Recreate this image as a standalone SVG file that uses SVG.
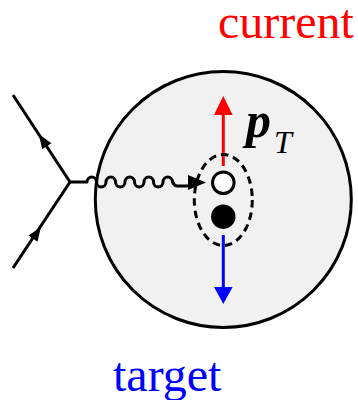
<svg xmlns="http://www.w3.org/2000/svg" width="358" height="400" viewBox="0 0 358 400">
<style>
.ln{fill:none;stroke:#000;stroke-width:3;stroke-linecap:butt;stroke-linejoin:round}
.ah{fill:#000;stroke:none}
.lbl{font-family:"Liberation Serif","Times New Roman",serif;font-size:48px}
</style>
<rect width="358" height="400" fill="#fff"/>
<g id="blob"><circle cx="223.3" cy="199.5" r="128" fill="#f1f1f1" stroke="#000" stroke-width="3"/></g>
<g id="connectors">
  <g id="fermion-out">
    <line class="ln" x1="70" y1="182" x2="13" y2="95"/>
    <polygon class="ah" points="38.7,134 51.4,143.3 42.2,149.3"/>
  </g>
  <g id="fermion-in">
    <line class="ln" x1="13" y1="268" x2="70" y2="182"/>
    <polygon class="ah" points="40.9,227 37.5,241.7 28.5,235.5"/>
  </g>
  <g id="photon">
    <path class="ln" d="M70,182 H87 a4.75,5 0 0 1 9.5,0 a4.75,5 0 0 0 9.5,0 a4.75,5 0 0 1 9.5,0 a4.75,5 0 0 0 9.5,0 a4.75,5 0 0 1 9.5,0 a4.75,5 0 0 0 9.5,0 a4.75,5 0 0 1 9.5,0 a4.75,5 0 0 0 9.5,0 a4.75,5 0 0 1 9.5,0 c1.6,3.4 3.2,4 5,4 H190"/>
    <polygon class="ah" points="188,175 206,182.5 188,190"/>
  </g>
  <g id="current-arrow">
    <line x1="223.3" y1="166" x2="223.3" y2="113" stroke="#f00" stroke-width="3"/>
    <polygon fill="#f00" points="214,115 232.6,115 223.3,96"/>
  </g>
  <g id="target-arrow">
    <line x1="223.3" y1="235" x2="223.3" y2="289" stroke="#00f" stroke-width="3"/>
    <polygon fill="#00f" points="214,287 232.6,287 223.3,304"/>
  </g>
</g>
<g id="pair"><ellipse cx="223.3" cy="200" rx="29" ry="45.5" fill="none" stroke="#000" stroke-width="3" stroke-dasharray="7.5 5"/></g>
<g id="hole"><circle cx="223.3" cy="182.7" r="10.8" fill="#fff" stroke="#000" stroke-width="3"/></g>
<g id="quark"><circle cx="223.3" cy="216.7" r="12.2" fill="#000"/></g>
<g id="labels">
  <text class="lbl" x="218" y="38" fill="#f00">current</text>
  <text class="lbl" x="113" y="391" fill="#00f">target</text>
  <text x="246" y="137" font-family="'Liberation Serif','Times New Roman',serif" font-size="50" font-weight="bold" font-style="italic">p</text>
  <text x="274" y="153" font-family="'Liberation Serif','Times New Roman',serif" font-size="32" font-style="italic">T</text>
</g>
</svg>
